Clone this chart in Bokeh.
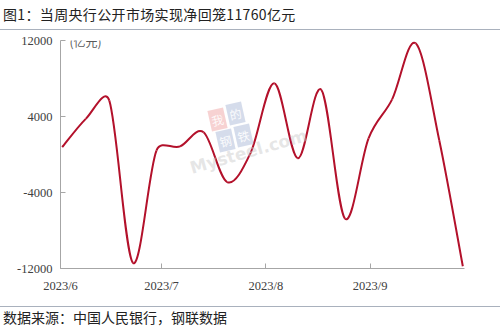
import math
import pandas as pd
from bokeh.plotting import figure
from bokeh.models import Range1d, FixedTicker, Label, Div
from bokeh.layouts import column
from bokeh.embed import file_html
from bokeh.resources import INLINE

# ---- data ----
dates = ["2023-06-01", "2023-06-08", "2023-06-15", "2023-06-22", "2023-06-29",
         "2023-07-06", "2023-07-13", "2023-07-20", "2023-07-27",
         "2023-08-03", "2023-08-10", "2023-08-17", "2023-08-24", "2023-08-31",
         "2023-09-07", "2023-09-14", "2023-09-21", "2023-09-28"]
net_injection = [770, 3750, 5670, -11400, 420, 850, 2340, -2900, 200,
                 7490, -400, 6790, -6750, 1700, 5800, 11700, 1500, -11760]
x_tick_dates = ["2023-06-01", "2023-07-01", "2023-08-01", "2023-09-01"]
x_tick_labels = ["2023/6", "2023/7", "2023/8", "2023/9"]
y_ticks = [-12000, -4000, 4000, 12000]
y_tick_labels = ["-12000", "-4000", "4000", "12000"]

title_text = "图1：当周央行公开市场实现净回笼11760亿元"
unit_text = "(亿元)"
source_text = "数据来源：中国人民银行，钢联数据"

# ---- layout ----
W = 500
TITLE_H, FIG_H, SRC_H = 30, 276, 27
BL, BR, BT, BB = 60, 36, 10, 38
origin = pd.Timestamp("2023-06-01")
xs = [(pd.Timestamp(d) - origin).days + 0.5 for d in dates]
tick_pos = [(pd.Timestamp(d) - origin).days for d in x_tick_dates]
x_start, x_end = 0, 120
y_start, y_end = -12000, 12000

p = figure(width=W, height=FIG_H, output_backend="svg", toolbar_location=None,
           x_range=Range1d(x_start, x_end), y_range=Range1d(y_start, y_end),
           min_border_left=BL, min_border_right=BR,
           min_border_top=BT, min_border_bottom=BB, margin=0)
p.xgrid.visible = False
p.ygrid.visible = False
p.outline_line_color = None
p.background_fill_color = "white"
p.border_fill_color = "white"

# ---- smoothed line (Excel-like bezier smoothing, computed in pixel space) ----
fw = W - BL - BR
fh = FIG_H - BT - BB
kx = fw / (x_end - x_start)
ky = fh / (y_end - y_start)
P = [(x * kx, y * ky) for x, y in zip(xs, net_injection)]
n = len(P)

def dist(a, b):
    return math.hypot(b[0] - a[0], b[1] - a[1])

def arm(a, b, seg):
    dx, dy = b[0] - a[0], b[1] - a[1]
    d = math.hypot(dx, dy)
    if d == 0:
        return 0.0, 0.0
    f = 1.0 / 6.0
    if d / 6.0 > seg / 2.0:
        f = seg / (2.0 * d)
    return dx * f, dy * f

bx0, by0, bx1, by1, cx0, cy0, cx1, cy1 = [], [], [], [], [], [], [], []
for i in range(n - 1):
    p0 = P[max(i - 1, 0)]
    p1 = P[i]
    p2 = P[i + 1]
    p3 = P[min(i + 2, n - 1)]
    seg = dist(p1, p2)
    a1 = arm(p0, p2, seg)
    a2 = arm(p1, p3, seg)
    bx0.append(p1[0] / kx); by0.append(p1[1] / ky)
    bx1.append(p2[0] / kx); by1.append(p2[1] / ky)
    cx0.append((p1[0] + a1[0]) / kx); cy0.append((p1[1] + a1[1]) / ky)
    cx1.append((p2[0] - a2[0]) / kx); cy1.append((p2[1] - a2[1]) / ky)

# ---- watermark (faint) ----
wm_boxes = [("我", 217, 89, "#F2B4B4"), ("的", 235, 83, "#B9C5DD"),
            ("钢", 225, 110, "#B9C5DD"), ("铁", 243, 105, "#B9C5DD")]
for ch, cx, cy, col in wm_boxes:
    p.add_layout(Label(x=cx, y=cy, x_units="canvas", y_units="canvas", text=ch,
                       text_font="Noto Sans CJK SC", text_font_size="12px",
                       text_color="white", text_align="center", text_baseline="middle",
                       background_fill_color=col, background_fill_alpha=0.6,
                       padding=2, angle=0.22, text_alpha=0.9))
p.add_layout(Label(x=248, y=121, x_units="canvas", y_units="canvas", text="Mysteel.com",
                   text_font="DejaVu Sans", text_font_size="17px", text_font_style="bold",
                   text_color="#C8C8C8", text_alpha=0.45, text_align="center",
                   text_baseline="middle", angle=0.28))

p.bezier(x0=bx0, y0=by0, x1=bx1, y1=by1, cx0=cx0, cy0=cy0, cx1=cx1, cy1=cy1,
         line_color="#B3112B", line_width=2)

# ---- axes ----
axis_col = "#A6A6A6"
lab_col = "#404040"
xa = p.xaxis[0]
xa.ticker = FixedTicker(ticks=tick_pos)
xa.major_label_overrides = {t: l for t, l in zip(tick_pos, x_tick_labels)}
ya = p.yaxis[0]
ya.ticker = FixedTicker(ticks=y_ticks)
ya.major_label_overrides = {t: l for t, l in zip(y_ticks, y_tick_labels)}
for ax in (xa, ya):
    ax.axis_line_color = axis_col
    ax.major_tick_line_color = axis_col
    ax.minor_tick_line_color = None
    ax.major_tick_in = 5
    ax.major_tick_out = 0
    ax.major_label_text_font = "Liberation Serif"
    ax.major_label_text_font_size = "12.5px"
    ax.major_label_text_color = lab_col
xa.major_label_standoff = 10
ya.major_label_standoff = 8

p.add_layout(Label(x=69, y=11, x_units="canvas", y_units="canvas", text=unit_text,
                   text_font="Noto Sans CJK SC", text_font_size="12px",
                   text_color="#595959", text_baseline="middle"))

# ---- title / source with rules ----
rule = "1.5px solid #A9B1BD"
title_div = Div(
    text=(f'<div style="width:{W}px;height:{TITLE_H}px;box-sizing:border-box;'
          f'border-bottom:{rule};padding-left:3px;font-family:\'Noto Sans CJK SC\';'
          f'font-size:14px;letter-spacing:0.35px;line-height:28px;color:#222222;'
          f'white-space:nowrap;">{title_text}</div>'),
    width=W, height=TITLE_H, margin=0)
source_div = Div(
    text=(f'<div style="width:{W}px;height:{SRC_H}px;box-sizing:border-box;'
          f'border-top:{rule};padding-left:3px;font-family:\'Noto Sans CJK SC\';'
          f'font-size:14px;line-height:21px;color:#222222;white-space:nowrap;">'
          f'{source_text}</div>'),
    width=W, height=SRC_H, margin=0)

layout = column(title_div, p, source_div, spacing=0, margin=0)
open("out.html", "w").write(file_html(layout, INLINE))
